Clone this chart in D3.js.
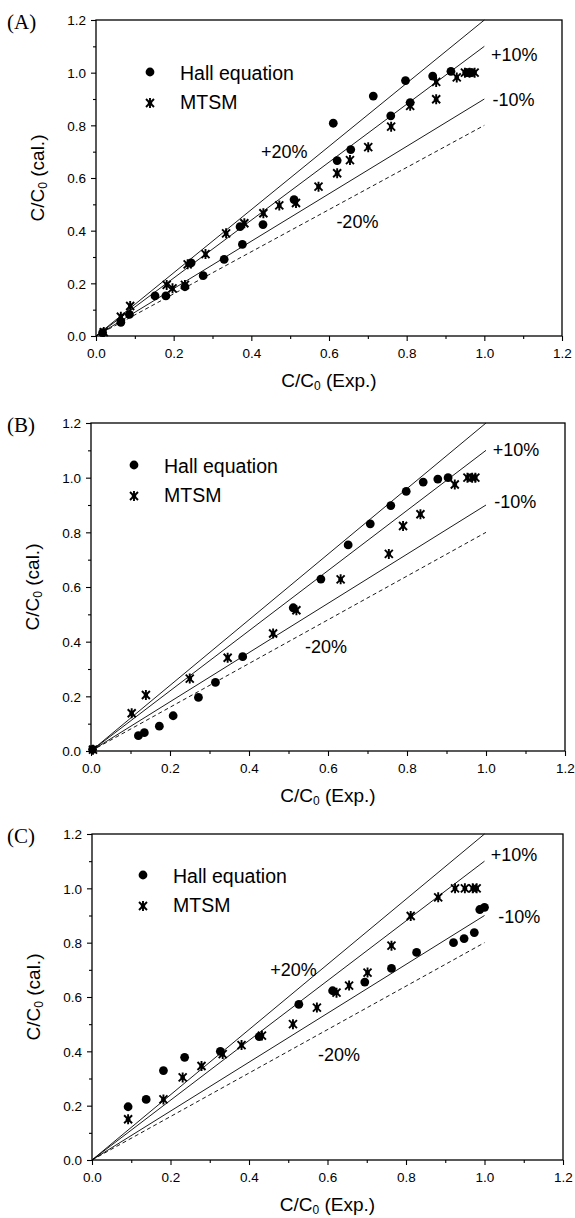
<!DOCTYPE html>
<html>
<head>
<meta charset="utf-8">
<script src="https://cdn.jsdelivr.net/npm/d3@7"></script>
<style>
  body { margin: 0; background: #fff; }
  svg { display: block; }
  text { fill: #000; }
</style>
</head>
<body>
<div id="chart"></div>
<script>
// data, [C/C0 exp, C/C0 cal]
var hallA = [[0.017,0.013],[0.064,0.052],[0.086,0.082],[0.152,0.152],[0.18,0.152],[0.229,0.187],
  [0.245,0.278],[0.276,0.229],[0.33,0.291],[0.371,0.415],[0.377,0.348],[0.43,0.423],[0.51,0.518],
  [0.611,0.808],[0.621,0.666],[0.656,0.708],[0.714,0.911],[0.759,0.836],[0.797,0.97],[0.809,0.886],
  [0.867,0.987],[0.914,1.005],[0.955,1.0],[0.965,1.0]];
var mtsmA = [[0.02,0.015],[0.064,0.073],[0.088,0.114],[0.182,0.194],[0.197,0.181],[0.229,0.194],
  [0.236,0.272],[0.282,0.311],[0.335,0.39],[0.382,0.428],[0.431,0.466],[0.472,0.496],[0.515,0.505],
  [0.573,0.567],[0.621,0.618],[0.654,0.668],[0.701,0.717],[0.76,0.795],[0.809,0.874],[0.876,0.899],
  [0.876,0.965],[0.929,0.982],[0.95,1.0],[0.962,1.0],[0.975,1.0]];

var hallB = [[0.004,0.006],[0.12,0.056],[0.135,0.067],[0.173,0.091],[0.208,0.129],[0.272,0.196],
  [0.315,0.251],[0.384,0.345],[0.512,0.524],[0.582,0.629],[0.651,0.754],[0.707,0.831],[0.759,0.898],
  [0.798,0.95],[0.841,0.984],[0.878,0.995],[0.904,1.0]];
var mtsmB = [[0.005,0.005],[0.103,0.138],[0.139,0.205],[0.25,0.265],[0.346,0.341],[0.461,0.43],
  [0.52,0.515],[0.632,0.628],[0.754,0.721],[0.79,0.823],[0.834,0.866],[0.921,0.975],[0.953,1.0],
  [0.965,1.0],[0.973,1.0]];

var hallC = [[0.092,0.196],[0.138,0.223],[0.182,0.329],[0.236,0.378],[0.327,0.4],[0.426,0.454],
  [0.527,0.573],[0.613,0.623],[0.695,0.655],[0.763,0.705],[0.827,0.764],[0.921,0.8],[0.948,0.815],
  [0.974,0.837],[0.988,0.922],[1.0,0.93]];
var mtsmC = [[0.092,0.15],[0.182,0.223],[0.231,0.304],[0.279,0.346],[0.333,0.39],[0.381,0.423],
  [0.433,0.458],[0.512,0.5],[0.573,0.561],[0.623,0.616],[0.655,0.642],[0.702,0.69],[0.763,0.789],
  [0.812,0.898],[0.882,0.967],[0.925,1.0],[0.95,1.0],[0.97,1.0],[0.98,1.0]];

// +/- deviation lines y = k*x, drawn up to x = 1.0
var refSlopes = [1.2, 1.1, 0.9, 0.8];
var refNames = ["+20%", "+10%", "-10%", "-20%"];
var seriesNames = ["Hall equation", "MTSM"];
var majorTicks = [0, 0.2, 0.4, 0.6, 0.8, 1.0, 1.2];
var minorTicks = [0.1, 0.3, 0.5, 0.7, 0.9, 1.1];

var width = 575, height = 1218;

var panels = [
  {tag: "(A)", left: 96, right: 562, top: 20, bottom: 336, hall: hallA, mtsm: mtsmA,
   legend: [54, 52], labels: {"+20%": [0.425, 0.676], "+10%": [1.017, 1.044], "-10%": [1.021, 0.874], "-20%": [0.619, 0.41]}},
  {tag: "(B)", left: 91, right: 565, top: 423, bottom: 751, hall: hallB, mtsm: mtsmB,
   legend: [43, 42], labels: {"+10%": [1.017, 1.079], "-10%": [1.021, 0.889], "-20%": [0.542, 0.359]}},
  {tag: "(C)", left: 92, right: 563, top: 834, bottom: 1160, hall: hallC, mtsm: mtsmC,
   legend: [51, 41], labels: {"+20%": [0.454, 0.677], "+10%": [1.016, 1.10], "-10%": [1.035, 0.872], "-20%": [0.576, 0.364]}}
];

var svg = d3.select("#chart")
    .append("svg")
    .attr("width", width)
    .attr("height", height)
    .style("font-family", "'Liberation Sans', Arial, sans-serif");

svg.append("rect").attr("width", width).attr("height", height).attr("fill", "#fff");

// star marker like the scanned MTSM symbol
function drawStar(g) {
  g.append("path")
    .attr("d", "M-4,-4L4,4M-4,4L4,-4M0,-5L0,5")
    .attr("stroke", "#000").attr("stroke-width", 1.9).attr("fill", "none");
  g.append("circle").attr("r", 2.3).attr("fill", "#000");
}

panels.forEach(function(p) {
  var x = d3.scaleLinear().domain([0, 1.2]).range([p.left, p.right]);
  var y = d3.scaleLinear().domain([0, 1.2]).range([p.bottom, p.top]);
  var g = svg.append("g");

  // axes
  var xAxis = d3.axisBottom(x).tickValues(majorTicks).tickSize(5).tickFormat(d3.format(".1f"));
  var yAxis = d3.axisLeft(y).tickValues(majorTicks).tickSize(5).tickFormat(d3.format(".1f"));
  var gx = g.append("g").attr("transform", "translate(0," + p.bottom + ")").call(xAxis);
  var gy = g.append("g").attr("transform", "translate(" + p.left + ",0)").call(yAxis);
  g.append("g").attr("transform", "translate(0," + p.bottom + ")")
    .call(d3.axisBottom(x).tickValues(minorTicks).tickSize(3).tickFormat(""));
  g.append("g").attr("transform", "translate(" + p.left + ",0)")
    .call(d3.axisLeft(y).tickValues(minorTicks).tickSize(3).tickFormat(""));

  g.selectAll(".domain").remove();
  g.selectAll(".tick line").attr("stroke", "#000").attr("stroke-width", 1.1);
  gx.selectAll(".tick text").attr("font-size", 13.5).attr("dy", null).attr("y", 22)
    .style("font-family", "'Liberation Sans', Arial, sans-serif");
  gy.selectAll(".tick text").attr("font-size", 13.5).attr("x", -10).attr("dy", "0.35em")
    .style("font-family", "'Liberation Sans', Arial, sans-serif");

  g.append("rect")
    .attr("x", p.left).attr("y", p.top)
    .attr("width", p.right - p.left).attr("height", p.bottom - p.top)
    .attr("fill", "none").attr("stroke", "#000").attr("stroke-width", 1.3);

  // reference lines
  refSlopes.forEach(function(k, i) {
    g.append("line")
      .attr("x1", x(0)).attr("y1", y(0))
      .attr("x2", x(1.0)).attr("y2", y(k * 1.0))
      .attr("stroke", "#000").attr("stroke-width", 0.9)
      .attr("stroke-dasharray", i === 3 ? "4,3" : null);
    var pos = p.labels[refNames[i]];
    if (pos) {
      g.append("text").attr("x", x(pos[0])).attr("y", y(pos[1]))
        .attr("font-size", 18).text(refNames[i]);
    }
  });

  // points
  g.append("g").selectAll("circle")
    .data(p.hall)
    .join("circle")
    .attr("cx", function(d) { return x(d[0]); })
    .attr("cy", function(d) { return y(d[1]); })
    .attr("r", 4.4)
    .attr("fill", "#000");

  g.append("g").selectAll("g")
    .data(p.mtsm)
    .join("g")
    .attr("transform", function(d) { return "translate(" + x(d[0]) + "," + y(d[1]) + ")"; })
    .each(function() { drawStar(d3.select(this)); });

  // legend
  var lx = p.left + p.legend[0], ly = p.top + p.legend[1];
  g.append("circle").attr("cx", lx).attr("cy", ly).attr("r", 4.4).attr("fill", "#000");
  g.append("text").attr("x", lx + 30).attr("y", ly + 8).attr("font-size", 19.5).text(seriesNames[0]);
  drawStar(g.append("g").attr("transform", "translate(" + lx + "," + (ly + 31) + ")"));
  g.append("text").attr("x", lx + 30).attr("y", ly + 37).attr("font-size", 19.5).text(seriesNames[1]);

  // axis titles
  var xt = g.append("text")
    .attr("x", (p.left + p.right) / 2).attr("y", p.bottom + 51)
    .attr("text-anchor", "middle").attr("font-size", 19);
  xt.append("tspan").text("C/C");
  xt.append("tspan").attr("font-size", 12).attr("dy", 3).text("0");
  xt.append("tspan").attr("dy", -3).text(" (Exp.)");

  var yt = g.append("text")
    .attr("transform", "translate(" + (p.left - 52) + "," + ((p.top + p.bottom) / 2) + ") rotate(-90)")
    .attr("text-anchor", "middle").attr("font-size", 19);
  yt.append("tspan").text("C/C");
  yt.append("tspan").attr("font-size", 12).attr("dy", 3).text("0");
  yt.append("tspan").attr("dy", -3).text(" (cal.)");

  // panel tag
  g.append("text").attr("x", 7).attr("y", p.top + 9)
    .attr("font-size", 21).style("font-family", "'Liberation Serif', 'Times New Roman', serif")
    .text(p.tag);
});
</script>
</body>
</html>
